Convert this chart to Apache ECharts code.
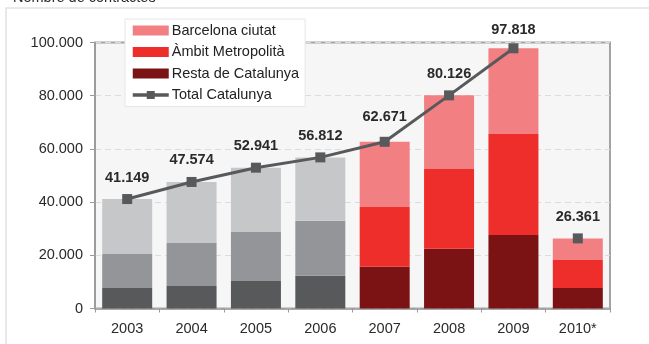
<!DOCTYPE html>
<html>
<head>
<meta charset="utf-8">
<script src="https://cdn.jsdelivr.net/npm/echarts@6/dist/echarts.min.js"></script>
<style>
  html, body { margin: 0; padding: 0; background: #ffffff; }
  #chart { width: 649px; height: 344px; }
</style>
</head>
<body>
<div id="chart"></div>
<script>
// Contractes per any i àmbit territorial
const years = ['2003', '2004', '2005', '2006', '2007', '2008', '2009', '2010*'];
const restaCatalunya = [7700, 8500, 10300, 12300, 15700, 22500, 27600, 7700];
const ambitMetropolita = [12800, 16100, 18500, 20700, 22500, 29900, 38000, 10500];
const barcelonaCiutat = [20650, 22970, 24140, 23810, 24470, 27730, 32220, 8160];
const totalCatalunya = [41149, 47574, 52941, 56812, 62671, 80126, 97818, 26361];
const yTicks = [0, 20000, 40000, 60000, 80000, 100000];

const FONT = '"Liberation Sans", Arial, Helvetica, sans-serif';
const fmt = v => String(v).replace(/\B(?=(\d{3})+(?!\d))/g, '.');

// Les barres dels anys 2003-2006 es pinten en grisos
const greyYears = 4;
const greys = { top: '#c6c7c9', mid: '#949598', bottom: '#58595b' };
const reds = { top: '#f28083', mid: '#ee2e2b', bottom: '#7b1214' };

function barData(values, grey) {
  return values.map((v, i) => i < greyYears ? { value: v, itemStyle: { color: grey } } : v);
}

// La línia de total va fins al 2009; el 2010* només mostra el marcador
const labelDistances = [9, 9, 9, 9, 12, 9, 6, 9];
const lineMain = totalCatalunya.map((v, i) => i < 7 ? { value: v, label: { distance: labelDistances[i] } } : null);
const lineLast = totalCatalunya.map((v, i) => i === 7 ? { value: v, label: { distance: labelDistances[i] } } : null);

const lineLabel = {
  show: true,
  position: 'top',
  fontFamily: FONT,
  fontSize: 14.5,
  fontWeight: 'bold',
  color: '#2a2a2a',
  formatter: p => fmt(p.value)
};

const chart = echarts.init(document.getElementById('chart'), null, { renderer: 'canvas' });

chart.setOption({
  animation: false,
  textStyle: { fontFamily: FONT },
  title: {
    text: 'Nombre de contractes',
    left: 8,
    top: -15,
    textStyle: { fontFamily: FONT, fontSize: 14.5, fontWeight: 'normal', color: '#2a2a2a' }
  },
  graphic: [{
    type: 'rect',
    silent: true,
    z: -10,
    shape: { x: 6, y: 8, width: 700, height: 400 },
    style: { fill: 'none', stroke: '#e2e2e2', lineWidth: 1.5 }
  }],
  legend: {
    orient: 'vertical',
    left: 125,
    top: 19,
    padding: [4, 6, 4, 6],
    itemGap: 6.5,
    itemWidth: 36,
    itemHeight: 10,
    backgroundColor: '#ffffff',
    borderColor: '#e6e6e6',
    borderWidth: 1,
    textStyle: { fontFamily: FONT, fontSize: 14.5, color: '#222222', padding: [0, 0, 0, -2] },
    data: [
      { name: 'Barcelona ciutat', icon: 'rect' },
      { name: 'Àmbit Metropolità', icon: 'rect' },
      { name: 'Resta de Catalunya', icon: 'rect' },
      { name: 'Total Catalunya', lineStyle: { width: 3.5, color: '#58595b' }, itemStyle: { color: '#58595b' } }
    ]
  },
  grid: {
    left: 95,
    right: 39,
    top: 42.5,
    bottom: 35.5,
    show: true,
    backgroundColor: '#f6f6f6',
    borderColor: '#a3a3a3',
    borderWidth: 2
  },
  xAxis: {
    type: 'category',
    data: years,
    axisLine: { lineStyle: { color: '#9a9a9a', width: 1.5 } },
    axisTick: { show: true, length: 4, lineStyle: { color: '#9a9a9a' } },
    axisLabel: { fontFamily: FONT, fontSize: 14.5, color: '#2a2a2a', margin: 13 }
  },
  yAxis: {
    type: 'value',
    min: yTicks[0],
    max: yTicks[yTicks.length - 1],
    interval: yTicks[1] - yTicks[0],
    axisLine: { show: true, lineStyle: { color: '#9a9a9a', width: 1.5 } },
    axisTick: { show: true, length: 5, lineStyle: { color: '#9a9a9a' } },
    axisLabel: { fontFamily: FONT, fontSize: 14.5, color: '#2a2a2a', margin: 12, formatter: v => fmt(v) },
    splitLine: { show: true, lineStyle: { color: '#dcdcdc', type: [6, 4], width: 1 } }
  },
  series: [
    {
      name: 'Resta de Catalunya',
      type: 'bar',
      stack: 'total',
      barWidth: 50,
      color: reds.bottom,
      data: barData(restaCatalunya, greys.bottom)
    },
    {
      name: 'Àmbit Metropolità',
      type: 'bar',
      stack: 'total',
      barWidth: 50,
      color: reds.mid,
      data: barData(ambitMetropolita, greys.mid)
    },
    {
      name: 'Barcelona ciutat',
      type: 'bar',
      stack: 'total',
      barWidth: 50,
      color: reds.top,
      data: barData(barcelonaCiutat, greys.top)
    },
    {
      name: 'Total Catalunya',
      type: 'line',
      color: '#58595b',
      symbol: 'rect',
      symbolSize: 10,
      showAllSymbol: true,
      lineStyle: { width: 3, color: '#58595b' },
      itemStyle: { color: '#58595b' },
      label: lineLabel,
      z: 5,
      data: lineMain
    },
    {
      name: 'Total Catalunya',
      type: 'line',
      color: '#58595b',
      symbol: 'rect',
      symbolSize: 10,
      showAllSymbol: true,
      lineStyle: { width: 3, color: '#58595b' },
      itemStyle: { color: '#58595b' },
      label: lineLabel,
      z: 5,
      data: lineLast
    }
  ]
});
</script>
</body>
</html>
